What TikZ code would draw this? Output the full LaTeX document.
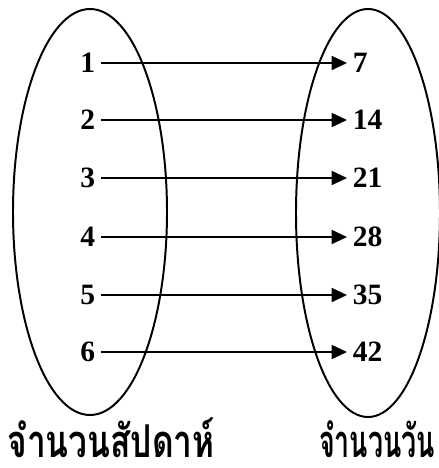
\documentclass[tikz,border=0pt]{standalone}
\usepackage{fontspec}
\setmainfont{Liberation Serif}
\newfontfamily\thaifont[Script=Thai]{Loma}
\usetikzlibrary{arrows.meta}

\begin{document}
\begin{tikzpicture}[
x=0.025cm, y=-0.025cm,
every node/.style={font=\bfseries\fontsize{21}{24}\selectfont, inner sep=4pt},
setline/.style={line width=1.4pt},
maparrow/.style={line width=1.4pt, -{Triangle[length=11pt, width=10pt]}},
setname/.style={font=\thaifont\bfseries\fontsize{28}{32}\selectfont, inner sep=0pt, yscale=1.15, anchor=base}
]

    \useasboundingbox (0,0) rectangle (439,468);

    % Sets
    \draw[setline] (90,212) ellipse [x radius=77, y radius=203];
    \draw[setline] (368,213) ellipse [x radius=72, y radius=204];

    % Weeks and days
    \foreach \w/\d/\y in {1/7/63, 2/14/120, 3/21/178, 4/28/237, 5/35/295, 6/42/352} {
        \node[anchor=east] (w\w) at (101,\y) {\w};
        \node[anchor=west] (d\w) at (347,\y) {\d};
        \draw[maparrow] (w\w) -- (d\w);
    }

    % Set names
    \node[setname, xscale=0.85] (weeks) at (111,457) {จำนวนสัปดาห์};
    \node[setname, xscale=0.68] (days) at (377,457) {จำนวนวัน};

\end{tikzpicture}
\end{document}
